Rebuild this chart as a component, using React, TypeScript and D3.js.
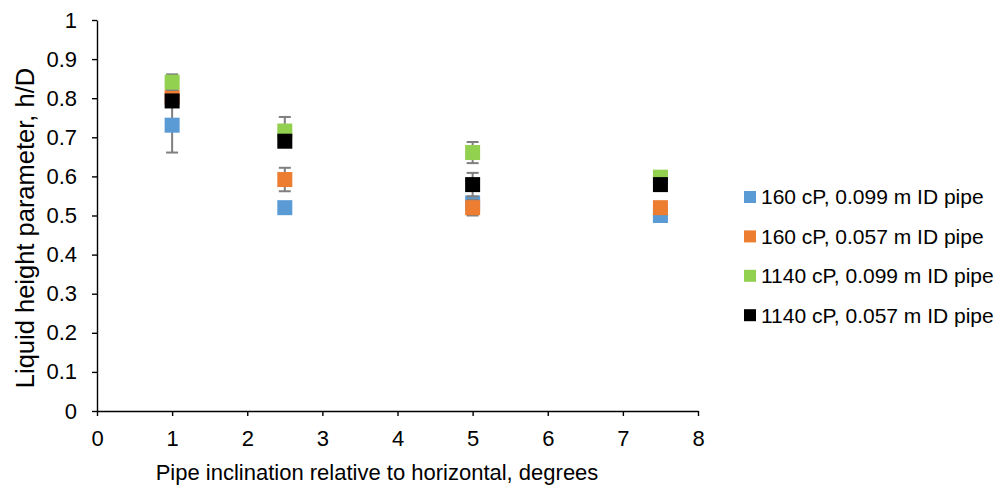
import { useEffect, useRef } from 'react'
import * as d3 from 'd3'

const inclinations = [1, 2.5, 5, 7.5]

const seriesNames = [
  '160 cP, 0.099 m ID pipe',
  '160 cP, 0.057 m ID pipe',
  '1140 cP, 0.099 m ID pipe',
  '1140 cP, 0.057 m ID pipe',
]
const seriesColors = ['#5b9bd5', '#ed7d31', '#92d050', '#000000']

const blueValues = [0.731, 0.52, 0.532, 0.5]
const orangeValues = [0.803, 0.592, 0.52, 0.52]
const greenValues = [0.841, 0.716, 0.661, 0.598]
const blackValues = [0.793, 0.69, 0.579, 0.579]

// symmetric error (+/-) per point
const blueErrors = [0.07, 0, 0, 0]
const orangeErrors = [0.01, 0.03, 0.02, 0]
const greenErrors = [0.02, 0.036, 0.027, 0]
const blackErrors = [0.01, 0.01, 0.03, 0]

const xTicks = [0, 1, 2, 3, 4, 5, 6, 7, 8]
const yTicks = [0, 0.1, 0.2, 0.3, 0.4, 0.5, 0.6, 0.7, 0.8, 0.9, 1]

const xTitle = 'Pipe inclination relative to horizontal, degrees'
const yTitle = 'Liquid height parameter, h/D'

export default function App() {
  const svgRef = useRef<SVGSVGElement>(null)

  useEffect(() => {
    if (!svgRef.current) return
    const width = 1005
    const height = 488
    const margin = { top: 20, right: 307, bottom: 77, left: 97 }
    const plotW = width - margin.left - margin.right
    const plotH = height - margin.top - margin.bottom
    const font = "'Liberation Sans', Arial, sans-serif"

    const svg = d3.select(svgRef.current)
    svg.selectAll('*').remove()
    svg.append('rect').attr('width', width).attr('height', height).attr('fill', '#fff')

    const x = d3.scaleLinear().domain([0, 8]).range([0, plotW])
    const y = d3.scaleLinear().domain([0, 1]).range([plotH, 0])

    const g = svg.append('g').attr('transform', `translate(${margin.left},${margin.top})`)

    // Y axis
    const yAxis = g
      .append('g')
      .call(d3.axisLeft(y).tickValues(yTicks).tickSize(5).tickSizeOuter(0).tickFormat((d) => d3.format('~g')(d as number)))
    yAxis.select('.domain').attr('stroke', '#000').attr('stroke-width', 1.4)
    yAxis.selectAll('.tick line').attr('stroke', '#000').attr('stroke-width', 1.4)
    yAxis
      .selectAll('.tick text')
      .attr('x', -20)
      .attr('font-family', font)
      .attr('font-size', 22)
      .attr('fill', '#000')

    // X axis
    const xAxis = g
      .append('g')
      .attr('transform', `translate(0,${plotH})`)
      .call(d3.axisBottom(x).tickValues(xTicks).tickSize(5).tickSizeOuter(0).tickFormat(d3.format('d')))
    xAxis.select('.domain').attr('stroke', '#000').attr('stroke-width', 1.4)
    xAxis.selectAll('.tick line').attr('stroke', '#000').attr('stroke-width', 1.4)
    xAxis
      .selectAll('.tick text')
      .attr('y', 19)
      .attr('font-family', font)
      .attr('font-size', 22)
      .attr('fill', '#000')

    const series = [
      { values: blueValues, errors: blueErrors },
      { values: orangeValues, errors: orangeErrors },
      { values: greenValues, errors: greenErrors },
      { values: blackValues, errors: blackErrors },
    ]

    const size = 15
    const cap = 6

    series.forEach((s, i) => {
      const sg = g.append('g')
      const pts = inclinations.map((xv, j) => ({ x: xv, y: s.values[j], e: s.errors[j] }))
      const withErr = pts.filter((p) => p.e > 0)
      sg.selectAll('line.err')
        .data(withErr)
        .join('line')
        .attr('class', 'err')
        .attr('x1', (d) => x(d.x))
        .attr('x2', (d) => x(d.x))
        .attr('y1', (d) => y(d.y - d.e))
        .attr('y2', (d) => y(d.y + d.e))
        .attr('stroke', '#7f7f7f')
        .attr('stroke-width', 2)
      sg.selectAll('line.capT')
        .data(withErr)
        .join('line')
        .attr('class', 'capT')
        .attr('x1', (d) => x(d.x) - cap)
        .attr('x2', (d) => x(d.x) + cap)
        .attr('y1', (d) => y(d.y + d.e))
        .attr('y2', (d) => y(d.y + d.e))
        .attr('stroke', '#7f7f7f')
        .attr('stroke-width', 2)
      sg.selectAll('line.capB')
        .data(withErr)
        .join('line')
        .attr('class', 'capB')
        .attr('x1', (d) => x(d.x) - cap)
        .attr('x2', (d) => x(d.x) + cap)
        .attr('y1', (d) => y(d.y - d.e))
        .attr('y2', (d) => y(d.y - d.e))
        .attr('stroke', '#7f7f7f')
        .attr('stroke-width', 2)
      sg.selectAll('rect.pt')
        .data(pts)
        .join('rect')
        .attr('class', 'pt')
        .attr('x', (d) => x(d.x) - size / 2)
        .attr('y', (d) => y(d.y) - size / 2)
        .attr('width', size)
        .attr('height', size)
        .attr('fill', seriesColors[i])
    })

    // Axis titles
    svg.append('text')
      .attr('x', 377)
      .attr('y', 480)
      .attr('text-anchor', 'middle')
      .attr('font-family', font)
      .attr('font-size', 22)
      .attr('fill', '#000')
      .text(xTitle)

    svg.append('text')
      .attr('transform', `translate(34,228) rotate(-90)`)
      .attr('text-anchor', 'middle')
      .attr('font-family', font)
      .attr('font-size', 25.5)
      .attr('fill', '#000')
      .text(yTitle)

    // Legend
    const legend = svg.append('g').attr('transform', 'translate(744,197)')
    seriesNames.forEach((name, i) => {
      const row = legend.append('g').attr('transform', `translate(0,${i * 39.4})`)
      row.append('rect').attr('x', 0).attr('y', -6).attr('width', 12).attr('height', 12).attr('fill', seriesColors[i])
      row.append('text')
        .attr('x', 17)
        .attr('y', 0)
        .attr('dy', '0.35em')
        .attr('font-family', font)
        .attr('font-size', 21)
        .attr('fill', '#000')
        .text(name)
    })
  }, [])

  return (
    <div style={{ position: 'fixed', left: 0, top: 0, width: 1005, height: 488, overflow: 'hidden' }}>
      <svg ref={svgRef} width={1005} height={488} style={{ display: 'block' }} />
    </div>
  )
}
